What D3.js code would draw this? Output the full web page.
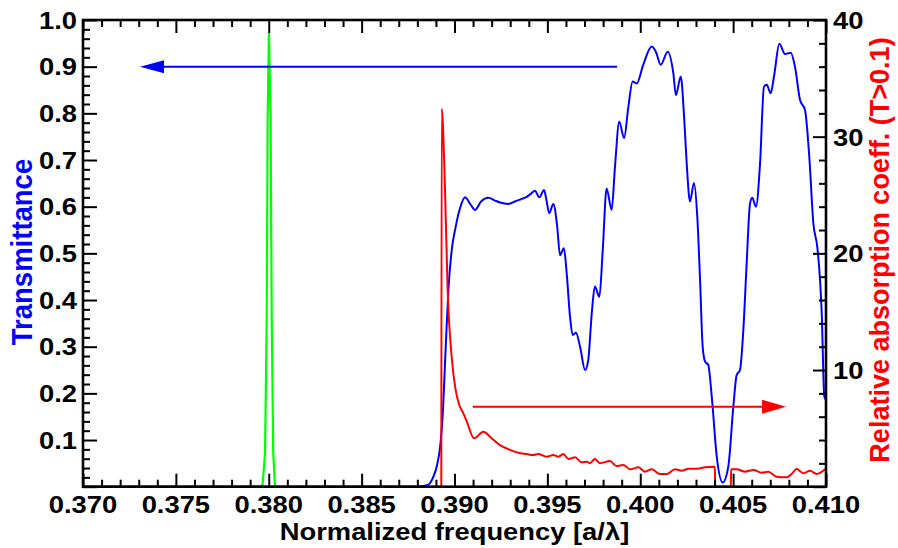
<!DOCTYPE html>
<html>
<head>
<meta charset="utf-8">
<script src="https://cdn.jsdelivr.net/npm/d3@7"></script>
<style>
  html, body { margin: 0; padding: 0; background: #fff; }
  svg { display: block; }
  text { font-family: "Liberation Sans", Arial, Helvetica, sans-serif; font-weight: bold; }
</style>
</head>
<body>
<svg id="chart" width="898" height="548"></svg>
<script>
// ---------------- data ----------------
const xTickLabels = ["0.370","0.375","0.380","0.385","0.390","0.395","0.400","0.405","0.410"];
const leftTickLabels = ["0.1","0.2","0.3","0.4","0.5","0.6","0.7","0.8","0.9","1.0"];
const rightTickLabels = ["10","20","30","40"];

// green resonance (transmittance, left axis)
const greenX = [0.3700, 0.3796, 0.37967, 0.37980, 0.37989, 0.37994, 0.38001, 0.38010, 0.38016, 0.38024, 0.38033, 0.3804, 0.3893];
const greenT = [0, 0, 0.005, 0.073, 0.357, 0.786, 0.972, 0.786, 0.357, 0.073, 0.005, 0, 0];

// blue transmittance (left axis)
const blueX = [0.3700, 0.3880, 0.38857, 0.38886, 0.38906, 0.38922, 0.38938, 0.38952, 0.38967, 0.38985, 0.39005,
  0.39030, 0.39057, 0.39086, 0.39110, 0.39143, 0.39182, 0.39218, 0.39245, 0.39290, 0.39326,
  0.39358, 0.39389, 0.39412, 0.39433, 0.39457, 0.39482, 0.39495, 0.39510, 0.39532, 0.39553,
  0.39568, 0.39589, 0.39604, 0.39622, 0.39636, 0.39654, 0.39676, 0.39703, 0.39720, 0.39739,
  0.39756, 0.39780, 0.39798, 0.39819, 0.39846, 0.39864, 0.39887, 0.39913, 0.39936, 0.39959,
  0.39981, 0.40016, 0.40062, 0.40085, 0.40110, 0.40148, 0.40178, 0.40192, 0.40218, 0.40236,
  0.40250, 0.40268, 0.40289, 0.40307, 0.40322, 0.40336, 0.40349, 0.40366, 0.40385, 0.40412,
  0.40444, 0.40474, 0.40501, 0.40519, 0.40537, 0.40555, 0.40573, 0.40591, 0.40603, 0.40623,
  0.40645, 0.40666, 0.40681, 0.40702, 0.40720, 0.40749, 0.40779, 0.40810, 0.40833, 0.40860,
  0.40887, 0.40910, 0.40932, 0.40953, 0.40968, 0.40977, 0.40991, 0.41000];
const blueT = [0, 0, 0.004, 0.021, 0.046, 0.083, 0.164, 0.293, 0.421, 0.507, 0.554,
  0.597, 0.620, 0.605, 0.593, 0.611, 0.619, 0.613, 0.609, 0.606, 0.611,
  0.616, 0.621, 0.628, 0.634, 0.620, 0.636, 0.614, 0.586, 0.606, 0.557,
  0.496, 0.511, 0.457, 0.364, 0.325, 0.330, 0.300, 0.250, 0.271, 0.372,
  0.429, 0.407, 0.507, 0.639, 0.593, 0.686, 0.782, 0.747, 0.814, 0.868,
  0.864, 0.904, 0.943, 0.931, 0.904, 0.932, 0.886, 0.839, 0.879, 0.793,
  0.693, 0.611, 0.651, 0.579, 0.443, 0.300, 0.268, 0.261, 0.193, 0.064,
  0.009, 0.043, 0.171, 0.239, 0.250, 0.336, 0.479, 0.607, 0.619, 0.600,
  0.693, 0.857, 0.861, 0.843, 0.879, 0.949, 0.927, 0.930, 0.900, 0.829,
  0.807, 0.707, 0.564, 0.514, 0.443, 0.372, 0.193, 0.186];

// red relative absorption coefficient (right axis)
const redX = [0.38929, 0.38931, 0.38949, 0.38963, 0.38985, 0.39006, 0.39026, 0.39047, 0.39066, 0.39105, 0.39155,
  0.39200, 0.39245, 0.39299, 0.39344, 0.39389, 0.39424, 0.39451, 0.39496, 0.39532, 0.39559,
  0.39586, 0.39613, 0.39649, 0.39685, 0.39712, 0.39729, 0.39756, 0.39783, 0.39837, 0.39873,
  0.39909, 0.39945, 0.39990, 0.40026, 0.40062, 0.40106, 0.40142, 0.40187, 0.40223, 0.40259,
  0.40304, 0.40349, 0.40402, 0.40403, 0.40488, 0.40489, 0.40519, 0.40564, 0.40609, 0.40654,
  0.40689, 0.40735, 0.40788, 0.40815, 0.40842, 0.40878, 0.40914, 0.40950, 0.40995];
const redR = [0, 32.4, 25.4, 16.9, 11.1, 8.3, 7.0, 6.3, 5.6, 4.15, 4.7,
  4.15, 3.57, 3.15, 2.91, 2.80, 2.72, 2.80, 2.57, 2.72, 2.57,
  2.80, 2.37, 2.52, 2.09, 2.14, 2.01, 2.37, 2.01, 2.20, 1.77,
  1.86, 1.49, 1.66, 1.29, 1.49, 1.09, 1.09, 1.49, 1.37, 1.54,
  1.54, 1.66, 1.71, 0, 0, 1.49, 1.49, 1.29, 1.43, 1.20,
  1.29, 0.86, 0.81, 1.09, 1.52, 1.15, 1.37, 1.09, 1.49];

// arrows
const blueArrowX = [0.39875, 0.37307];
const blueArrowT = 0.9;
const redArrowX = [0.39098, 0.40785];
const redArrowR = 6.86;

// ---------------- chart ----------------
const W = 898, H = 548;
const L = 83, R = 826, T = 20, B = 486.7;
const SX = 1.14; // horizontal glyph stretch

const svg = d3.select("#chart");
const x = d3.scaleLinear().domain([0.370, 0.410]).range([L, R]);
const yL = d3.scaleLinear().domain([0, 1]).range([B, T]);
const yR = d3.scaleLinear().domain([0, 40]).range([B, T]);

svg.append("defs").append("clipPath").attr("id", "clip")
  .append("rect").attr("x", L).attr("y", T - 1).attr("width", R - L).attr("height", B - T + 1);

const plot = svg.append("g").attr("clip-path", "url(#clip)");
const curve = d3.curveMonotoneX;

const lineL = d3.line().x(d => x(d[0])).y(d => yL(d[1])).curve(curve);
const lineR = d3.line().x(d => x(d[0])).y(d => yR(d[1])).curve(curve);

plot.append("path").datum(greenX.map((v, i) => [v, greenT[i]]))
  .attr("d", d3.line().x(d => x(d[0])).y(d => yL(d[1])).curve(d3.curveLinear))
  .attr("fill", "none").attr("stroke", "#00ff00").attr("stroke-width", 2.2);

plot.append("path").datum(blueX.map((v, i) => [v, blueT[i]]))
  .attr("d", lineL).attr("fill", "none").attr("stroke", "#0000ff").attr("stroke-width", 2);

plot.append("path").datum(redX.map((v, i) => [v, redR[i]]))
  .attr("d", lineR).attr("fill", "none").attr("stroke", "#ff0000").attr("stroke-width", 2);

// arrows
function arrow(x0, x1, yy, color, headLen, headHalf) {
  const dir = Math.sign(x1 - x0);
  const base = x1 - dir * headLen;
  svg.append("line").attr("x1", x0).attr("x2", base).attr("y1", yy).attr("y2", yy)
    .attr("stroke", color).attr("stroke-width", 2);
  svg.append("path")
    .attr("d", `M${x1},${yy} L${base},${yy - headHalf} L${base},${yy + headHalf} Z`)
    .attr("fill", color);
}
arrow(x(blueArrowX[0]), x(blueArrowX[1]), yL(blueArrowT), "#0000ff", 24, 6.5);
arrow(x(redArrowX[0]), x(redArrowX[1]), yR(redArrowR), "#ff0000", 24, 7);

// axes (ticks inward)
const xMajor = d3.range(0, 9).map(i => 0.370 + i * 0.005);
const xMinor = d3.range(0, 41).map(i => 0.370 + i * 0.001).filter((v, i) => i % 5 !== 0);
const lMajor = d3.range(0, 11).map(i => i * 0.1);
const lMinor = d3.range(0, 51).map(i => i * 0.02).filter((v, i) => i % 5 !== 0);
const rMajor = d3.range(0, 5).map(i => i * 10);
const rMinor = d3.range(0, 21).map(i => i * 2).filter((v, i) => i % 5 !== 0);

function addAxis(axisFn, scale, values, size, transform) {
  const g = svg.append("g").attr("transform", transform)
    .call(axisFn(scale).tickValues(values).tickSize(-size).tickSizeOuter(0).tickFormat(""));
  g.select(".domain").remove();
  g.selectAll(".tick line").attr("stroke", "#000").attr("stroke-width", 2);
}
addAxis(d3.axisBottom, x, xMajor, 13, `translate(0,${B})`);
addAxis(d3.axisBottom, x, xMinor, 7, `translate(0,${B})`);
addAxis(d3.axisTop, x, xMajor, 13, `translate(0,${T})`);
addAxis(d3.axisTop, x, xMinor, 7, `translate(0,${T})`);
addAxis(d3.axisLeft, yL, lMajor, 14, `translate(${L},0)`);
addAxis(d3.axisLeft, yL, lMinor, 7, `translate(${L},0)`);
addAxis(d3.axisRight, yR, rMajor, 13, `translate(${R},0)`);
addAxis(d3.axisRight, yR, rMinor, 7, `translate(${R},0)`);

svg.append("rect").attr("x", L).attr("y", T).attr("width", R - L).attr("height", B - T)
  .attr("fill", "none").attr("stroke", "#000").attr("stroke-width", 2.6);

// tick labels
svg.append("g").selectAll("text").data(xTickLabels).join("text")
  .attr("transform", d => `translate(${x(+d)},513) scale(${SX},1)`)
  .attr("text-anchor", "middle").attr("font-size", 24).attr("fill", "#000").text(d => d);

svg.append("g").selectAll("text").data(leftTickLabels).join("text")
  .attr("transform", d => `translate(77,${yL(+d) + 8.7}) scale(${SX},1)`)
  .attr("text-anchor", "end").attr("font-size", 24).attr("fill", "#000").text(d => d);

svg.append("g").selectAll("text").data(rightTickLabels).join("text")
  .attr("transform", d => `translate(833,${yR(+d) + 9}) scale(${SX},1)`)
  .attr("text-anchor", "start").attr("font-size", 24).attr("fill", "#000").text(d => d);

// axis titles
svg.append("text")
  .attr("transform", `translate(${(L + R) / 2},540) scale(${SX},1)`)
  .attr("text-anchor", "middle").attr("font-size", 24).attr("fill", "#000")
  .text("Normalized frequency [a/λ]");

svg.append("text")
  .attr("transform", `translate(31.5,252) rotate(-90) scale(1,1.1)`)
  .attr("text-anchor", "middle").attr("font-size", 27.5).attr("fill", "#0000ff")
  .text("Transmittance");

svg.append("text")
  .attr("transform", `translate(889,250) rotate(-90) scale(1,1.02)`)
  .attr("text-anchor", "middle").attr("font-size", 27).attr("fill", "#ff0000")
  .text("Relative absorption coeff. (T>0.1)");
</script>
</body>
</html>
